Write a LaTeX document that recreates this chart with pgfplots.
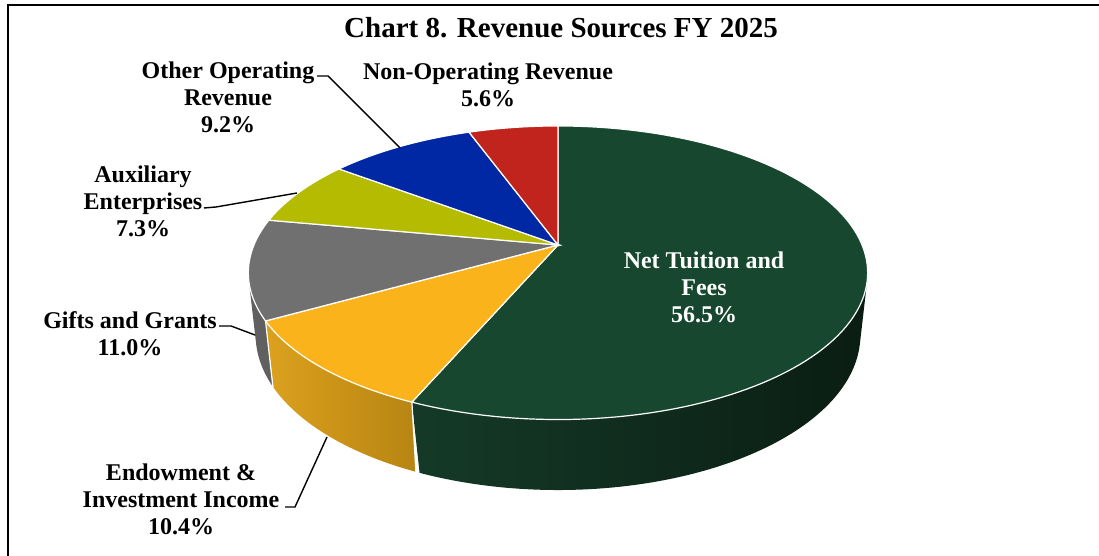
\documentclass[border=0pt]{standalone}
\usepackage{fontspec}
\setmainfont{Liberation Serif}
\usepackage{pgfplots}
\usepackage{pgfplotstable}
\pgfplotsset{compat=1.18}

\definecolor{cTuit}{HTML}{17482F}
\definecolor{cTuitSL}{HTML}{153A28}
\definecolor{cTuitSR}{HTML}{0A1D13}
\definecolor{cEndo}{HTML}{FBB31B}
\definecolor{cEndoSL}{HTML}{DCA11E}
\definecolor{cEndoSR}{HTML}{B78512}
\definecolor{cGift}{HTML}{707070}
\definecolor{cGiftS}{HTML}{606060}
\definecolor{cAux}{HTML}{B5BB00}
\definecolor{cOth}{HTML}{0028A5}
\definecolor{cNon}{HTML}{C1241C}

\pgfplotstableread{
source value
NetTuition 56.5
Endowment 10.4
Gifts 11.0
Auxiliary 7.3
OtherOperating 9.2
NonOperating 5.6
}\revtable

\pgfplotstablegetelem{0}{value}\of\revtable \let\vA\pgfplotsretval
\pgfplotstablegetelem{1}{value}\of\revtable \let\vB\pgfplotsretval
\pgfplotstablegetelem{2}{value}\of\revtable \let\vC\pgfplotsretval
\pgfplotstablegetelem{3}{value}\of\revtable \let\vD\pgfplotsretval
\pgfplotstablegetelem{4}{value}\of\revtable \let\vE\pgfplotsretval
\pgfplotstablegetelem{5}{value}\of\revtable \let\vF\pgfplotsretval

\pgfmathsetmacro\tO{90}
\pgfmathsetmacro\tA{\tO-3.6*\vA}
\pgfmathsetmacro\tB{\tA-3.6*\vB}
\pgfmathsetmacro\tC{\tB-3.6*\vC}
\pgfmathsetmacro\tD{\tC-3.6*\vD}
\pgfmathsetmacro\tE{\tD-3.6*\vE}
\pgfmathsetmacro\tF{\tE-3.6*\vF}
% silhouette angles of the cylinder side
\def\sR{-13.97}
\def\sL{-166.03}
\def\HH{0.2335}

\begin{document}
\begin{tikzpicture}[
  declare function={
    dep(\a,\h)=4.68+0.4655*\h+0.8851*sin(\a);
    px(\a,\h)=558+1423*cos(\a)/dep(\a,\h);
    py(\a,\h)=311+1423*(0.4655*sin(\a)-0.8851*\h)/dep(\a,\h);
    sth(\t,\p,\q)=(\t<=1)*(\p+(\q-\p)*\t)+(\t>1)*(\q+(\p-\q)*(\t-1));
    shh(\t)=0.2335*(\t>1);
  },
  lbl/.style={font=\bfseries\fontsize{24}{27}\selectfont, align=center, text=black},
]
\begin{axis}[
  x=1pt, y=1pt, xmin=0, xmax=1099, ymin=0, ymax=556,
  axis lines=none, clip=false, anchor=south west, at={(0,0)},
]
% frame
\draw[line width=2pt, black] (8,-20) -- (8,551) -- (1130,551);

% sides
\addplot[draw=none, left color=cTuitSL, right color=cTuitSR, domain=0:2, samples=301, variable=\t]
  ({px(sth(\t,\sR,\tA),shh(\t))},{py(sth(\t,\sR,\tA),shh(\t))}) -- cycle;
\addplot[draw=none, left color=cEndoSL, right color=cEndoSR, domain=0:2, samples=201, variable=\t]
  ({px(sth(\t,\tA,\tB),shh(\t))},{py(sth(\t,\tA,\tB),shh(\t))}) -- cycle;
\addplot[draw=none, fill=cGiftS, domain=0:2, samples=201, variable=\t]
  ({px(sth(\t,\tB,\sL),shh(\t))},{py(sth(\t,\tB,\sL),shh(\t))}) -- cycle;
% side separators
\addplot[white, line width=1.2pt, domain=0:\HH, samples=2, variable=\t] ({px(\tA,\t)},{py(\tA,\t)});
\addplot[white, line width=1.2pt, domain=0:\HH, samples=2, variable=\t] ({px(\tB,\t)},{py(\tB,\t)});

% top faces
\addplot[fill=cTuit, draw=white, line width=1.2pt, domain=\tA:\tO, samples=120, variable=\t]
  ({px(\t,0)},{py(\t,0)}) -- (558,311) -- cycle;
\addplot[fill=cEndo, draw=white, line width=1.2pt, domain=\tB:\tA, samples=40, variable=\t]
  ({px(\t,0)},{py(\t,0)}) -- (558,311) -- cycle;
\addplot[fill=cGift, draw=white, line width=1.2pt, domain=\tC:\tB, samples=40, variable=\t]
  ({px(\t,0)},{py(\t,0)}) -- (558,311) -- cycle;
\addplot[fill=cAux, draw=white, line width=1.2pt, domain=\tD:\tC, samples=30, variable=\t]
  ({px(\t,0)},{py(\t,0)}) -- (558,311) -- cycle;
\addplot[fill=cOth, draw=white, line width=1.2pt, domain=\tE:\tD, samples=30, variable=\t]
  ({px(\t,0)},{py(\t,0)}) -- (558,311) -- cycle;
\addplot[fill=cNon, draw=white, line width=1.2pt, domain=\tF:\tE, samples=30, variable=\t]
  ({px(\t,0)},{py(\t,0)}) -- (558,311) -- cycle;

% leader lines
\draw[black, line width=1.4pt] (317,480) -- (328,480) -- (400,408);
\draw[black, line width=1.4pt] (204,348) -- (216,349) -- (297,363);
\draw[black, line width=1.4pt] (219,230) -- (231,230) -- (255,221);
\draw[black, line width=1.4pt] (285,49) -- (295,49) -- (327,119);

% title
\node[font=\bfseries\fontsize{29}{34}\selectfont, anchor=base] at (561,518) {Chart 8. Revenue Sources FY 2025};

% labels
\node[lbl] at (228,458.5) {Other Operating\\Revenue\\9.2\%};
\node[lbl] at (488,471.5) {Non-Operating Revenue\\5.6\%};
\node[lbl] at (143,355) {Auxiliary\\Enterprises\\7.3\%};
\node[lbl] at (130,222.5) {Gifts and Grants\\11.0\%};
\node[lbl] at (181,56.5) {Endowment \&\\Investment Income\\10.4\%};
\node[lbl, text=white] at (704,268.5) {Net Tuition and\\Fees\\56.5\%};
\end{axis}
\pgfresetboundingbox
\path[use as bounding box] (0,0) rectangle (1099pt,556pt);
\end{tikzpicture}
\end{document}
